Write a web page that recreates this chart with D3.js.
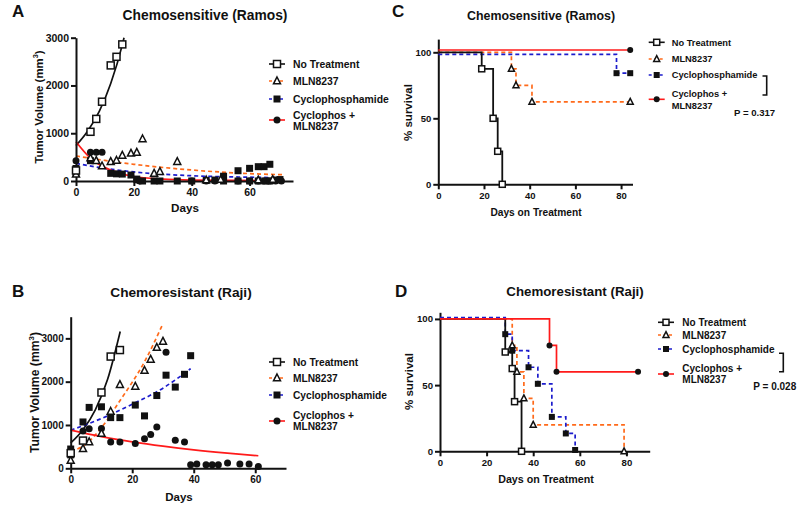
<!DOCTYPE html>
<html><head><meta charset="utf-8">
<script src="https://cdn.jsdelivr.net/npm/d3@7"></script>
<style>body{margin:0;background:#fff}svg{display:block;font-family:"Liberation Sans",Arial,sans-serif;font-weight:bold}</style>
</head><body><svg id="c" width="800" height="508"></svg>
<script>
// ---------------- DATA ----------------
const legendNames = ["No Treatment","MLN8237","Cyclophosphamide",["Cyclophos +","MLN8237"]];
const volTicksA = [0,1000,2000,3000];
const volTicksB = [0,1000,2000,3000];
const dayTicksAB = [0,20,40,60];
const survTicks = [0,50,100];
const dayTicksCD = [0,20,40,60,80];

// Panel A: tumor volume points [day, mm3]
const volA_noTx = [[0,220],[5,1030],[7,1300],[9,1660],[12,2420],[14,2600],[16,2860]];
const volA_mln = [[0,140],[5,480],[7,425],[9,314],[12,404],[14,430],[16,537],[19,580],[21,600],[23,880],[27,160],[29,195],[35,404],[45,20],[50,30],[63,20],[68,30]];
const volA_cyc = [[0,262],[0,180],[5,425],[12,160],[14,150],[16,145],[19,125],[21,40],[23,0],[27,0],[29,0],[35,0],[40,0],[45,10],[48,20],[51,100],[51,0],[56,215],[56,0],[60,265],[60,0],[63,300],[65,300],[67,350],[63,0],[65.5,0],[67,0],[68.8,20],[70.5,30]];
const volA_combo = [[0,425],[5,600],[7,600],[9,600],[21,20],[22,0],[40,0],[45,0],[48,0],[56,0],[60,0],[63,0],[65,0],[67,0],[69,0],[71,0]];
// Panel A: fitted curves
const fitA_noTx = [[0,740],[4,1040],[8,1450],[12,2040],[16,2850],[16.6,3000]];
const fitA_mln = [[0,525],[10,430],[20,350],[40,230],[60,155],[72,130]];
const fitA_cyc = [[0,370],[10,265],[20,190],[40,110],[60,80],[71,70]];
const fitA_combo = [[0,820],[5,475],[10,280],[15,165],[20,95],[30,40],[40,20],[55,12],[72,10]];

// Panel B
const volB_noTx = [[0,350],[4,640],[10,1750],[13,2580],[16,2730]];
const volB_mln = [[0,180],[4,453],[6,610],[10,805],[13,1312],[16,1930],[21,1890],[24,2258],[26,2515],[28,2789],[30,2930]];
const volB_cyc = [[0,445],[0,310],[4,1070],[6,1406],[10,1420],[13,1170],[16,1170],[21,1460],[24,1210],[28,1680],[31,2150],[34,1875],[37,2170],[39,2600]];
const volB_combo = [[0,330],[4,860],[6,914],[10,920],[13,610],[16,610],[21,570],[24,680],[26,780],[28,953],[31,2680],[34,650],[37,610],[39,80],[41,100],[44,80],[46,80],[48,80],[51,120],[55,100],[58,100],[61,40]];
const fitB_noTx = [[0,586],[4,890],[8,1350],[12,2055],[16.1,3160]];
const fitB_mln = [[0,400],[4,510],[10,940],[16,1560],[24,2460],[30,3340]];
const fitB_cyc = [[0,880],[10,1150],[20,1480],[30,1850],[39,2300]];
const fitB_combo = [[0,880],[10,730],[20,610],[30,510],[40,425],[50,355],[61,290]];

// Panel C: survival [day, %]
const survC_noTx = [[0,100],[19,87.5],[24,50],[26,25],[28,0]];
const survC_mln = [[0,100],[32,87.5],[34,75],[41,62.5],[84,62.5]];
const survC_cyc = [[0,100],[78,85.7],[84,85.7]];
const survC_combo = [[0,100],[84,100]];
const pValueC = "P = 0.317";

// Panel D
const survD_noTx = [[0,100],[28,75],[31,62.5],[32,37.5],[35,0]];
const survD_mln = [[0,100],[31,80],[33,60],[36,40],[40,20],[79,0]];
const survD_cyc = [[0,100],[28,87.5],[31,75],[38,62.5],[42,50],[48,25],[54,12.5],[58,0]];
const survD_combo = [[0,100],[47,80],[50,60],[85,60]];
const pValueD = "P = 0.028";

// ---------------- STYLE ----------------
const COL = {black:"#111", orange:"#ff6a1a", blue:"#1c1ccc", red:"#ff1a1a"};
const SER = [
  {color:COL.black, dash:null, mk:"sqo"},
  {color:COL.orange, dash:"4,3", mk:"trio"},
  {color:COL.blue, dash:"4,3", mk:"sqf"},
  {color:COL.red, dash:null, mk:"cirf"}
];

const svg = d3.select("#c");

function marker(g, type, x, y, s){
  if(type==="sqo") g.append("rect").attr("x",x-s/2).attr("y",y-s/2).attr("width",s).attr("height",s).attr("fill","#fff").attr("stroke","#111").attr("stroke-width",1.5);
  else if(type==="sqf") g.append("rect").attr("x",x-s/2).attr("y",y-s/2).attr("width",s).attr("height",s).attr("fill","#111");
  else if(type==="cirf") g.append("circle").attr("cx",x).attr("cy",y).attr("r",s/2).attr("fill","#111");
  else if(type==="trio"){
    const h=s*0.95;
    g.append("path").attr("d",`M${x},${y-h*0.6}L${x+s/2},${y+h*0.42}L${x-s/2},${y+h*0.42}Z`).attr("fill","#fff").attr("stroke","#111").attr("stroke-width",1.5).attr("stroke-linejoin","miter");
  }
}

function axes(g, x, y, xt, yt, fs){
  const fmt = d3.format("d");
  const ax = g.append("g").attr("transform",`translate(0,${y(0)})`)
    .call(d3.axisBottom(x).tickValues(xt).tickFormat(fmt).tickSize(5).tickPadding(3).tickSizeOuter(0));
  const ay = g.append("g").attr("transform",`translate(${x(0)},0)`)
    .call(d3.axisLeft(y).tickValues(yt).tickFormat(fmt).tickSize(5).tickPadding(2).tickSizeOuter(0));
  [ax,ay].forEach(a=>{
    a.select(".domain").attr("stroke","#111").attr("stroke-width",2);
    a.selectAll(".tick line").attr("stroke","#111").attr("stroke-width",2);
    a.selectAll(".tick text").attr("fill","#111").attr("font-size",fs).attr("font-weight","bold").attr("font-family","Liberation Sans, Arial, sans-serif");
  });
}

function text(g, t, x, y, fs, anchor){
  return g.append("text").attr("x",x).attr("y",y).attr("font-size",fs).attr("text-anchor",anchor||"start").attr("fill","#111").text(t);
}

function yLabelVol(g, x, cy, fs){
  const t = g.append("text").attr("transform",`translate(${x},${cy}) rotate(-90)`).attr("text-anchor","middle").attr("font-size",fs).attr("fill","#111");
  t.append("tspan").text("Tumor Volume (mm");
  t.append("tspan").attr("dy",-fs*0.4).attr("font-size",fs*0.65).text("3");
  t.append("tspan").attr("dy",fs*0.4).text(")");
}

function legend(g, sx, tx, rows, comboMarkY, fs, ms){
  legendNames.forEach((n,i)=>{
    const s = SER[i];
    const my = i<3 ? rows[i] : comboMarkY;
    g.append("line").attr("x1",sx-8).attr("x2",sx+8).attr("y1",my).attr("y2",my)
      .attr("stroke",s.color).attr("stroke-width",1.6).attr("stroke-dasharray",s.dash?"3,2.5":null);
    marker(g, s.mk, sx, my, ms);
    if(Array.isArray(n)){
      text(g, n[0], tx, rows[3]+fs*0.36, fs);
      text(g, n[1], tx, rows[4]+fs*0.36, fs);
    } else text(g, n, tx, rows[i]+fs*0.36, fs);
  });
}

function scatterPanel(cfg){
  const g = svg.append("g");
  const x = d3.scaleLinear().domain(cfg.xd).range(cfg.xr);
  const y = d3.scaleLinear().domain(cfg.yd).range(cfg.yr);
  const line = d3.line().x(d=>x(d[0])).y(d=>y(d[1])).curve(d3.curveMonotoneX);
  cfg.fits.forEach((f,i)=>{
    g.append("path").attr("d",line(f)).attr("fill","none").attr("stroke",SER[i].color)
      .attr("stroke-width",1.7).attr("stroke-dasharray",SER[i].dash);
  });
  axes(g, x, y, cfg.xt, cfg.yt, cfg.tfs);
  [2,3,1,0].forEach(i=>{
    cfg.pts[i].forEach(d=>marker(g, SER[i].mk, x(d[0]), y(d[1]), cfg.ms));
  });
  return g;
}

function survPanel(cfg){
  const g = svg.append("g");
  const x = d3.scaleLinear().domain(cfg.xd).range(cfg.xr);
  const y = d3.scaleLinear().domain(cfg.yd).range(cfg.yr);
  axes(g, x, y, cfg.xt, cfg.yt, cfg.tfs);
  const order=[1,2,0,3];
  order.forEach(i=>{
    const off = cfg.off[i];
    const line = d3.line().x(d=>x(d[0])).y(d=>y(d[1])+off).curve(d3.curveStepAfter);
    g.append("path").attr("d",line(cfg.surv[i])).attr("fill","none").attr("stroke",SER[i].color)
      .attr("stroke-width",i===0?1.8:1.7).attr("stroke-dasharray",SER[i].dash);
  });
  order.forEach(i=>{
    cfg.surv[i].slice(1).forEach(d=>marker(g, SER[i].mk, x(d[0]), y(d[1])+cfg.off[i], cfg.ms));
  });
  return g;
}

// ---------- Panel A ----------
const gA = scatterPanel({xd:[0,75], xr:[76,293], yd:[0,3000], yr:[181,37.7], xt:dayTicksAB, yt:volTicksA, tfs:10.5, ms:7,
  fits:[fitA_noTx,fitA_mln,fitA_cyc,fitA_combo], pts:[volA_noTx,volA_mln,volA_cyc,volA_combo]});
text(gA,"A",12,17,17);
text(gA,"Chemosensitive (Ramos)",205,20,13.8,"middle");
yLabelVol(gA,43,107,11.4);
text(gA,"Days",185,212,11.7,"middle");
legend(gA,277,293,[64,81,99,115,126],120,10.4,7);

// ---------- Panel B ----------
const gB = scatterPanel({xd:[0,70], xr:[70.7,286], yd:[0,3500], yr:[468.3,316.7], xt:dayTicksAB, yt:volTicksB, tfs:10, ms:7,
  fits:[fitB_noTx,fitB_mln,fitB_cyc,fitB_combo], pts:[volB_noTx,volB_mln,volB_cyc,volB_combo]});
text(gB,"B",12,297,17);
text(gB,"Chemoresistant (Raji)",181,297,13.7,"middle");
yLabelVol(gB,38.5,392.5,12.2);
text(gB,"Days",179,500.5,11.5,"middle");
legend(gB,277,293,[362,378,395,415,426],421,10.2,7);

// ---------- Panel C ----------
const gC = survPanel({xd:[0,85], xr:[438.3,632.5], yd:[0,110], yr:[184.3,39.1], xt:dayTicksCD, yt:survTicks, tfs:9.5, ms:6,
  surv:[survC_noTx,survC_mln,survC_cyc,survC_combo], off:[0,0,2,-2.3]});
text(gC,"C",392,17,17);
text(gC,"Chemosensitive (Ramos)",541,20,12.4,"middle");
gC.append("text").attr("transform","translate(412,112.5) rotate(-90)").attr("text-anchor","middle").attr("font-size",11.5).attr("fill","#111").text("% survival");
text(gC,"Days on Treatment",536,216,10.2,"middle");
legend(gC,656.7,671.7,[42.3,59,75,94,105.7],99.3,9.3,6);
gC.append("path").attr("d","M762.5,76H766.7V95H762.5").attr("fill","none").attr("stroke","#111").attr("stroke-width",1.6);
text(gC,pValueC,734,116,9.6);

// ---------- Panel D ----------
const gD = survPanel({xd:[0,90], xr:[440,649.7], yd:[0,105], yr:[451.3,312.3], xt:dayTicksCD, yt:survTicks, tfs:9.6, ms:6,
  surv:[survD_noTx,survD_mln,survD_cyc,survD_combo], off:[0,0,-1.3,0]});
text(gD,"D",395,297,17);
text(gD,"Chemoresistant (Raji)",575,295.5,13.3,"middle");
gD.append("text").attr("transform","translate(412.5,381.5) rotate(-90)").attr("text-anchor","middle").attr("font-size",11.5).attr("fill","#111").text("% survival");
text(gD,"Days on Treatment",546,483,10.7,"middle");
legend(gD,666,682.3,[322.3,335,349,368.3,379],374,10,6);
gD.append("path").attr("d","M779,353.3H783.3V371.7H779").attr("fill","none").attr("stroke","#111").attr("stroke-width",1.6);
text(gD,pValueD,753.3,390,10);
</script></body></html>
